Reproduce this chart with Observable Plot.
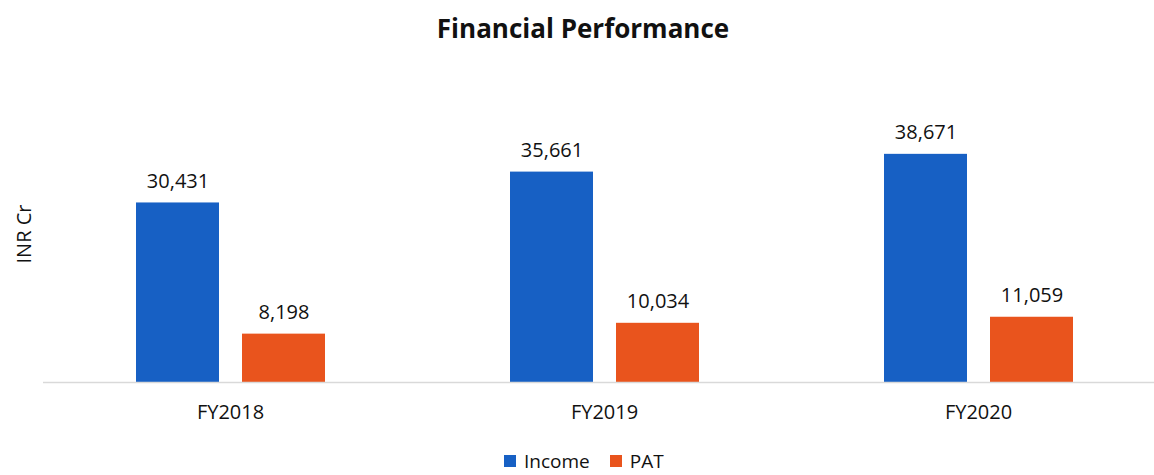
<!DOCTYPE html>
<html>
<head>
<meta charset="utf-8">
<script src="https://cdn.jsdelivr.net/npm/d3@7"></script>
<script src="https://cdn.jsdelivr.net/npm/@observablehq/plot@0.6"></script>
<style>
  html, body { margin: 0; padding: 0; background: #fff; }
  #wrap { position: relative; width: 1154px; height: 475px; overflow: hidden; font-family: "Open Sans", sans-serif; color: #111; }
  #title { position: absolute; left: 583px; top: 15px; transform: translateX(-50%); font-size: 26px; font-weight: 700; line-height: 1; white-space: nowrap; }
  #ylabel { position: absolute; left: 24px; top: 234px; transform: translate(-50%, -50%) rotate(-90deg); font-size: 20px; white-space: nowrap; line-height: 1; }
  #legend { position: absolute; left: 504px; top: 451px; display: flex; align-items: center; font-size: 19px; line-height: 20px; height: 20px; }
  .item { display: flex; align-items: center; margin-right: 20px; }
  .sw { width: 12px; height: 12px; margin-right: 8px; display: inline-block; }
  #chart { position: absolute; left: 0; top: 0; }
</style>
</head>
<body>
<div id="wrap">
  <div id="chart"></div>
  <div id="title">Financial Performance</div>
  <div id="ylabel">INR Cr</div>
  <div id="legend"></div>
</div>
<script>
const years = ["FY2018", "FY2019", "FY2020"];
const series = ["Income", "PAT"];
const income = [30431, 35661, 38671];
const pat = [8198, 10034, 11059];
const colors = ["#1760c4", "#e9541d"];

const data = [];
years.forEach((y, i) => {
  data.push({year: y, series: "Income", value: income[i]});
  data.push({year: y, series: "PAT", value: pat[i]});
});

const fmt = d3.format(",");

const chart = Plot.plot({
  width: 1154,
  height: 440,
  marginTop: 146,
  marginBottom: 58,
  marginLeft: 43,
  marginRight: 0,
  style: {fontFamily: "Open Sans, sans-serif", fontSize: "20px", color: "#111", background: "transparent"},
  facet: {data, x: "year", label: null},
  fx: {domain: years, range: [43, 1165], paddingInner: 0, paddingOuter: 0, tickSize: 0, tickPadding: 22, label: null, axis: "bottom"},
  x: {domain: series, paddingInner: 0.217, paddingOuter: 0.872, axis: null},
  y: {domain: [0, 40000], axis: null},
  color: {domain: series, range: colors},
  marks: [
    Plot.barY(data, {x: "series", y: "value", fill: "series"}),
    Plot.ruleY([0], {stroke: "#d9d9d9", strokeWidth: 1.5}),
    Plot.text(data, {x: "series", y: "value", text: d => fmt(d.value), lineAnchor: "bottom", dy: -15, fontSize: 20, fill: "#111"})
  ]
});
document.getElementById("chart").appendChild(chart);

const legend = document.getElementById("legend");
series.forEach((s, i) => {
  const item = document.createElement("div");
  item.className = "item";
  const sw = document.createElement("span");
  sw.className = "sw";
  sw.style.background = colors[i];
  const t = document.createElement("span");
  t.textContent = s;
  item.appendChild(sw);
  item.appendChild(t);
  legend.appendChild(item);
});
</script>
</body>
</html>
